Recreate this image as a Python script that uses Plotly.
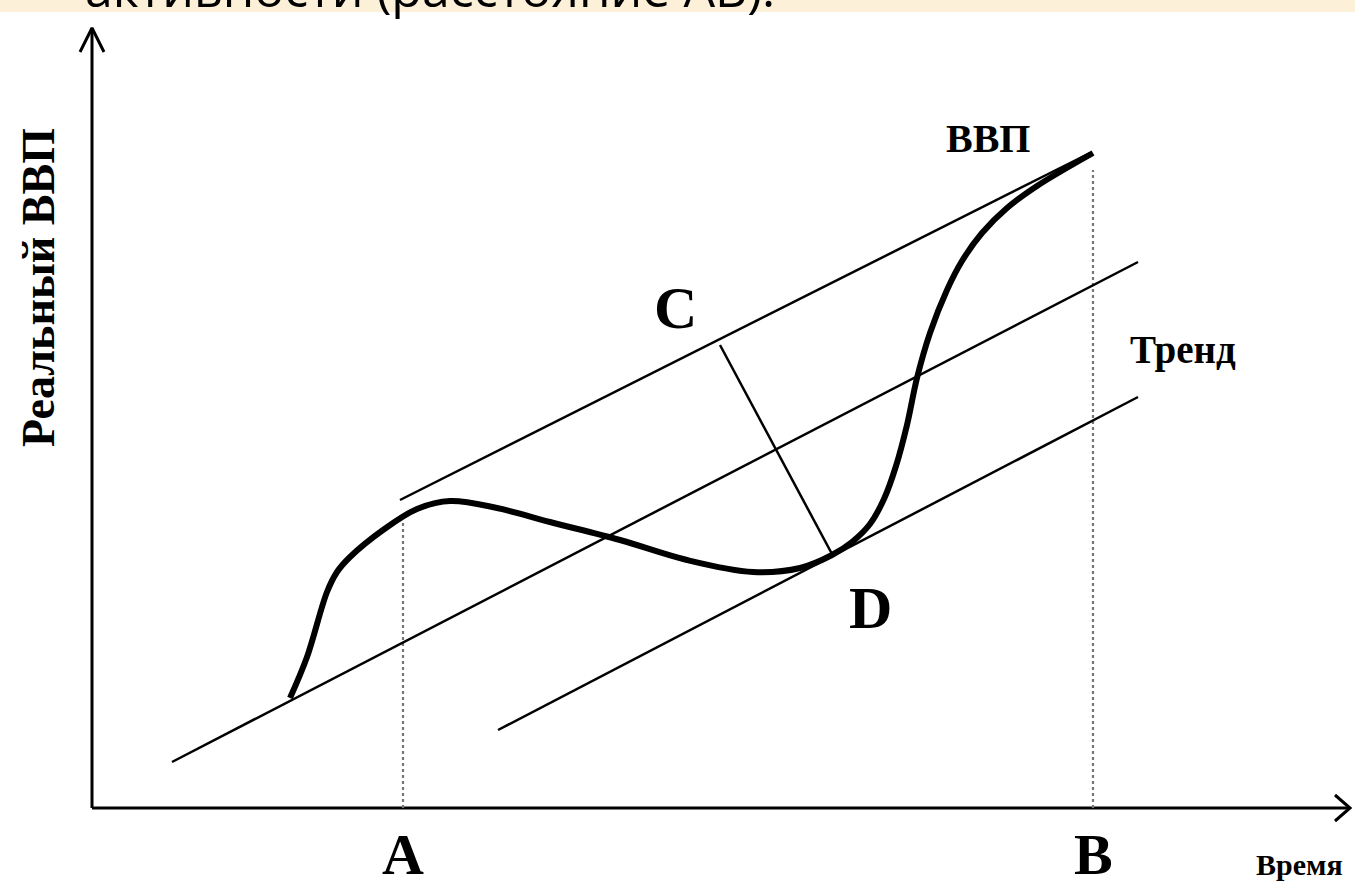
import plotly.graph_objects as go

# ---- data (time t, real GDP g) in chart units; origin = axes crossing ----
gdp_t = [198, 215, 235, 245, 258, 291, 325, 358, 405, 458, 528, 595, 661, 708, 740,
         760, 778, 792, 804, 815, 825, 838, 855, 870, 890, 915, 945, 1001]
gdp_g = [110, 151, 216, 236, 251, 278, 299, 307, 300, 286, 268, 248, 236, 240, 253,
         266, 284, 309, 342, 383, 430, 475, 518, 547, 575, 600, 622, 655]

upper_t = [308, 998]
upper_g = [308, 655]
trend_t = [80, 1046]
trend_g = [46, 546]
lower_t = [406, 1046]
lower_g = [78, 411]
cd_t = [628, 740]
cd_g = [463, 254]

point_A = 311
point_B = 1001
dotA_g = [0, 288]
dotB_g = [0, 638]

y_axis_t = [0, 0]
y_axis_g = [0, 780]
y_arrow_t = [-12, 0, 12]
y_arrow_g = [756, 780, 756]
x_axis_t = [0, 1258]
x_axis_g = [0, 0]
x_arrow_t = [1243, 1258, 1243]
x_arrow_g = [13, 0, -13]

header_text = "активности (расстояние АВ)."

fig = go.Figure()

def line(t, g, w, color="black", dash=None, shape="linear"):
    fig.add_trace(go.Scatter(x=t, y=g, mode="lines",
                             line=dict(color=color, width=w, dash=dash, shape=shape),
                             hoverinfo="skip", showlegend=False))

# axes
line(y_axis_t, y_axis_g, 3)
line(y_arrow_t, y_arrow_g, 3)
line(x_axis_t, x_axis_g, 3)
line(x_arrow_t, x_arrow_g, 3)

# dotted guides
line([point_A, point_A], dotA_g, 2.2, color="#777777", dash="dot")
line([point_B, point_B], dotB_g, 2.2, color="#777777", dash="dot")

# parallel lines
line(upper_t, upper_g, 2.5)
line(trend_t, trend_g, 2.5)
line(lower_t, lower_g, 2.5)
line(cd_t, cd_g, 2.5)

# GDP curve
line(gdp_t, gdp_g, 6, shape="spline")

serif = "Liberation Serif"
labels = [
    ("C", 583, 500, 60, "center", "middle"),
    ("D", 778, 200, 60, "center", "middle"),
    ("A", point_A, -81, 58, "center", "bottom"),
    ("B", point_B, -81, 58, "center", "bottom"),
    ("ВВП", 896, 670, 40, "center", "middle"),
    ("Тренд", 1036, 458, 39, "left", "middle"),
    ("Время", 1253, -56, 30, "right", "middle"),
]
for txt, x, y, s, xa, ya in labels:
    fig.add_annotation(x=x, y=y, text="<b>%s</b>" % txt, showarrow=False,
                       font=dict(family=serif, size=s, color="black"),
                       xanchor=xa, yanchor=ya)

fig.add_annotation(x=-54, y=520, text="<b>Реальный ВВП</b>", showarrow=False,
                   textangle=-90, font=dict(family=serif, size=46, color="black"),
                   xanchor="center", yanchor="middle")

# header band (cut-off slide title)
fig.add_shape(type="rect", xref="paper", yref="paper", x0=0, x1=1, y0=1 - 12 / 890, y1=1,
              fillcolor="#fdf0d8", line=dict(width=0), layer="below")
fig.add_annotation(xref="paper", yref="paper", x=83 / 1355, y=1 - 24 / 890,
                   xanchor="left", yanchor="bottom", text=header_text, showarrow=False,
                   font=dict(family="Open Sans", size=50, color="black"))

fig.update_layout(
    width=1355, height=890,
    margin=dict(l=0, r=0, t=0, b=0),
    paper_bgcolor="white", plot_bgcolor="white",
    xaxis=dict(range=[-92, 1263], visible=False),
    yaxis=dict(range=[-82, 808], visible=False),
)

fig.write_html("out.html", config={"displayModeBar": False},
               post_script="document.body.style.margin='0';")
